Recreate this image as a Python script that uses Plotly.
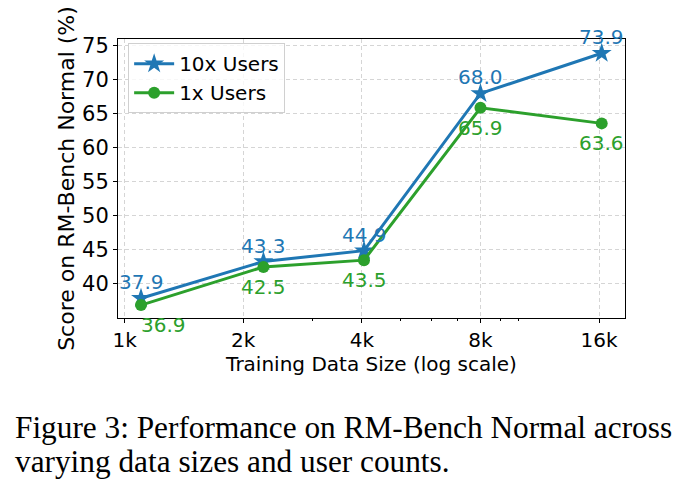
import math
import plotly.graph_objects as go

# Data
data_size = [1100, 2250, 4050, 8000, 16250]
users_10x = [37.9, 43.3, 44.9, 68.0, 73.9]
users_1x = [36.9, 42.5, 43.5, 65.9, 63.6]
x_tickvals = [1000, 2000, 4000, 8000, 16000]
x_ticklabels = ["1k", "2k", "4k", "8k", "16k"]
y_tickvals = [40, 45, 50, 55, 60, 65, 70, 75]

BLUE = "#1f77b4"
GREEN = "#2ca02c"
FONT = "DejaVu Sans"
FS = 20

fig = go.Figure()
fig.add_trace(go.Scatter(
    x=data_size, y=users_10x, mode="lines+markers", name="10x Users",
    line=dict(color=BLUE, width=3),
    marker=dict(symbol="star", size=15, color=BLUE),
))
fig.add_trace(go.Scatter(
    x=data_size, y=users_1x, mode="lines+markers", name="1x Users",
    line=dict(color=GREEN, width=3),
    marker=dict(symbol="circle", size=12, color=GREEN),
))

annotations = []
for i, (x, y) in enumerate(zip(data_size, users_10x)):
    annotations.append(dict(x=math.log10(x), y=y, xref="x", yref="y", text=f"{y:.1f}",
                            showarrow=False, yshift=16, font=dict(family=FONT, size=FS, color=BLUE)))
for i, (x, y) in enumerate(zip(data_size, users_1x)):
    annotations.append(dict(x=math.log10(x), y=y, xref="x", yref="y", text=f"{y:.1f}",
                            showarrow=False, yshift=-20, xshift=22 if i == 0 else 0,
                            font=dict(family=FONT, size=FS, color=GREEN)))

annotations.append(dict(x=-0.207, y=-0.394, xref="paper", yref="paper", xanchor="left", yanchor="middle",
                        text="Figure 3: Performance on RM-Bench Normal across", showarrow=False,
                        font=dict(family="Liberation Serif", size=31.3, color="black")))
annotations.append(dict(x=-0.207, y=-0.516, xref="paper", yref="paper", xanchor="left", yanchor="middle",
                        text="varying data sizes and user counts.", showarrow=False,
                        font=dict(family="Liberation Serif", size=31.3, color="black")))

minor_vals = [3000, 5000, 6000, 7000, 9000, 10000]

fig.update_layout(
    width=687, height=495,
    margin=dict(l=118, r=62, t=39, b=177),
    paper_bgcolor="white", plot_bgcolor="white",
    font=dict(family=FONT, size=FS, color="black"),
    annotations=annotations,
    showlegend=True,
    legend=dict(x=0.02, y=0.985, xanchor="left", yanchor="top",
                bordercolor="#d0d0d0", borderwidth=1, bgcolor="rgba(255,255,255,0.8)",
                font=dict(family=FONT, size=FS), itemwidth=40, tracegroupgap=0),
    xaxis=dict(
        type="log", range=[2.983, 4.27],
        tickvals=x_tickvals, ticktext=x_ticklabels,
        ticks="outside", ticklen=4, tickcolor="black",
        showline=True, linecolor="black", linewidth=1, mirror=True,
        showgrid=True, gridcolor="#d5d5d5", griddash="4px,3px", gridwidth=1,
        title=dict(text="Training Data Size (log scale)", font=dict(size=FS), standoff=2),
        tickfont=dict(size=FS),
        minor=dict(tickvals=minor_vals, ticks="outside", ticklen=2, tickcolor="black", showgrid=False),
        zeroline=False,
    ),
    yaxis=dict(
        range=[35.0, 76.0],
        tickvals=y_tickvals,
        ticks="outside", ticklen=4, tickcolor="black",
        showline=True, linecolor="black", linewidth=1, mirror=True,
        showgrid=True, gridcolor="#d5d5d5", griddash="4px,3px", gridwidth=1,
        title=dict(text="Score on RM-Bench Normal (%)", font=dict(size=22), standoff=1),
        tickfont=dict(size=21),
        zeroline=False,
    ),
)

fig.write_html("out.html")
